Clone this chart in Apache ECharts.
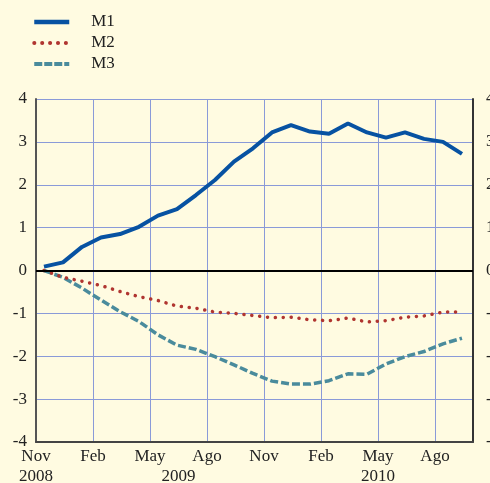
<!DOCTYPE html>
<html><head><meta charset="utf-8">
<script src="https://cdn.jsdelivr.net/npm/echarts@6/dist/echarts.min.js"></script>
<style>html,body{margin:0;padding:0;background:#fffbe1}#c{width:490px;height:483px}</style>
</head><body><div id="c"></div><script>
const months = ['2008-11','2008-12','2009-01','2009-02','2009-03','2009-04','2009-05','2009-06','2009-07','2009-08','2009-09','2009-10','2009-11','2009-12','2010-01','2010-02','2010-03','2010-04','2010-05','2010-06','2010-07','2010-08','2010-09'];
const monthTickLabels = ['Nov','Feb','May','Ago','Nov','Feb','May','Ago'];
const yearLabels = ['2008','2009','2010'];
const yearPos = [0, 7.5, 18];
const M1 = [0.09,0.19,0.55,0.77,0.85,1.02,1.28,1.43,1.76,2.11,2.54,2.85,3.22,3.39,3.24,3.19,3.43,3.22,3.10,3.22,3.07,3.00,2.72];
const M2 = [0,-0.16,-0.25,-0.35,-0.49,-0.61,-0.70,-0.83,-0.88,-0.97,-1.00,-1.05,-1.10,-1.09,-1.15,-1.17,-1.11,-1.20,-1.17,-1.09,-1.06,-0.97,-0.97];
const M3 = [0,-0.16,-0.41,-0.69,-0.96,-1.19,-1.50,-1.74,-1.84,-2.01,-2.20,-2.40,-2.58,-2.65,-2.65,-2.57,-2.41,-2.42,-2.18,-2.01,-1.89,-1.71,-1.58];

const FONT = 'Liberation Serif';
const C1 = '#0752a2', C2 = '#b03530', C3 = '#4a8b9c';
const pts = arr => arr.map((v,i) => [i + 0.42, v]);
const chart = echarts.init(document.getElementById('c'), null, {renderer:'canvas'});
const gridColor = '#8a9ad8';
chart.setOption({
  backgroundColor: '#fffbe1',
  animation: false,
  textStyle: {fontFamily: FONT},
  grid: {left: 36, right: 17, top: 99, bottom: 41, containLabel: false, outerBoundsMode: 'none'},
  legend: {
    orient: 'vertical', left: 27, top: 8.5, itemWidth: 35, itemHeight: 14, itemGap: 4,
    textStyle: {fontFamily: FONT, fontSize: 17, color: '#222', padding: [0,0,0,17]},
    itemStyle: {color: 'transparent', borderColor: 'transparent', borderWidth: 0, opacity: 0},
    data: [
      {name: 'M1', lineStyle: {width: 4.5, color: C1, type: 'solid'}},
      {name: 'M2', lineStyle: {width: 4, color: C2, type: [0.1, 7.8], cap: 'round'}},
      {name: 'M3', lineStyle: {width: 4, color: C3, type: [8, 2], cap: 'butt'}}
    ]
  },
  xAxis: [{
    type: 'value', min: 0, max: 23, interval: 3, position: 'bottom',
    axisLine: {show: true, onZero: false, lineStyle: {color: '#444', width: 2}},
    axisTick: {show: false},
    splitLine: {show: true, lineStyle: {color: gridColor, width: 1}},
    axisLabel: {fontFamily: FONT, fontSize: 17, color: '#222', margin: 6,
      formatter: v => (v % 3 === 0 && v/3 < monthTickLabels.length) ? monthTickLabels[v/3] : ''}
  },{
    type: 'value', min: 0, max: 23, position: 'bottom', offset: 20,
    axisLine: {show: false}, axisTick: {show: false}, splitLine: {show: false},
    axisLabel: {fontFamily: FONT, fontSize: 17, color: '#222', margin: 6, customValues: yearPos,
      formatter: v => { const k = yearPos.indexOf(v); return k >= 0 ? yearLabels[k] : ''; }}
  }],
  yAxis: [{
    type: 'value', min: -4, max: 4, interval: 1, position: 'left',
    axisLine: {show: true, onZero: false, lineStyle: {color: '#555', width: 2}},
    axisTick: {show: false},
    splitLine: {show: true, lineStyle: {color: gridColor, width: 1}},
    axisLabel: {fontFamily: FONT, fontSize: 17, color: '#222', margin: 9}
  },{
    type: 'value', min: -4, max: 4, interval: 1, position: 'right',
    axisLine: {show: true, onZero: false, lineStyle: {color: '#333', width: 2}},
    axisTick: {show: false}, splitLine: {show: false},
    axisLabel: {fontFamily: FONT, fontSize: 17, color: '#222', margin: 13}
  }],
  series: [
    {name: 'M1', type: 'line', data: pts(M1), symbol: 'none', z: 5,
     lineStyle: {color: C1, width: 4}, itemStyle: {color: C1},
     markLine: {silent: true, symbol: 'none', label: {show: false},
       lineStyle: {color: '#000', width: 2, type: 'solid'}, data: [{yAxis: 0}]}},
    {name: 'M2', type: 'line', data: pts(M2), symbol: 'none', z: 4,
     lineStyle: {color: C2, width: 3.5, type: [0.1, 7.8], cap: 'round'}, itemStyle: {color: C2}},
    {name: 'M3', type: 'line', data: pts(M3), symbol: 'none', z: 3,
     lineStyle: {color: C3, width: 3.5, type: [8, 3], cap: 'butt'}, itemStyle: {color: C3}}
  ]
});
</script></body></html>
